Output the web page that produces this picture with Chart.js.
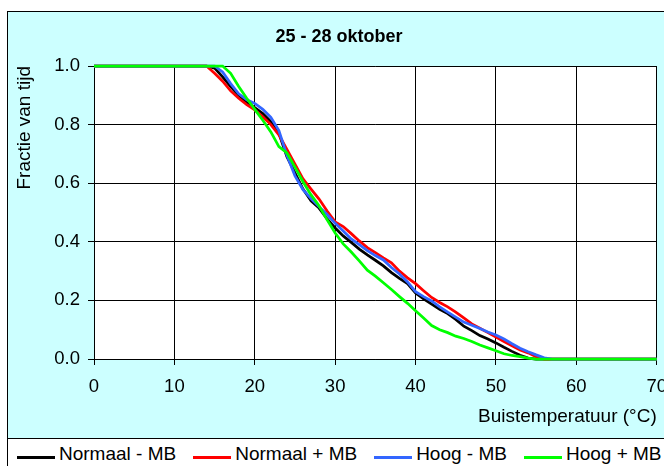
<!DOCTYPE html>
<html>
<head>
<meta charset="utf-8">
<script src="https://cdn.jsdelivr.net/npm/chart.js@4.4.0/dist/chart.umd.min.js"></script>
<style>
    html, body { margin: 0; padding: 0; width: 664px; height: 466px; overflow: hidden; background: #fff; }
    body { position: relative; font-family: "Liberation Sans", Arial, sans-serif; }
    .frame { position: absolute; left: 7px; top: 11px; width: 680px; height: 470px; background: #ccffff; border: 1px solid #000; }
    .chart-wrap { position: absolute; left: 0; top: 0; width: 678px; height: 438px; }
    .legend-box { position: absolute; left: 7px; top: 438px; width: 680px; height: 40px; background: #fff; border: 1px solid #000; }
    .legend-items { position: absolute; left: 17px; top: 443px; display: flex; gap: 17px; white-space: nowrap; }
    .legend-item { position: relative; height: 22px; line-height: 22px; font-size: 19px; color: #000; padding-left: 42px; }
    .legend-line { position: absolute; left: 0; top: 12.5px; width: 38px; height: 3px; }
</style>
</head>
<body>
<div class="frame"></div>
<div class="chart-wrap"><canvas id="curve-chart" width="678" height="438"></canvas></div>
<div class="legend-box"></div>
<div class="legend-items" id="legend"></div>

<script>
// buistemperatuur (°C)
const temps = [0, 14, 15, 16, 17, 18, 19, 20, 21, 22, 23, 24, 25, 26, 27, 28, 29, 30, 31, 32, 33, 34, 35,
    36, 37, 38, 39, 40, 41, 42, 43, 44, 45, 46, 47, 48, 49, 50, 51, 52, 53, 54, 55, 56, 57, 70];

// fractie van tijd per variant
const normaalMinMB = [1, 1.0, 0.993, 0.963, 0.93, 0.9, 0.876, 0.858, 0.838, 0.81, 0.77, 0.69, 0.635, 0.58,
    0.54, 0.515, 0.478, 0.447, 0.42, 0.398, 0.375, 0.355, 0.337, 0.318, 0.295, 0.275, 0.257, 0.225, 0.205,
    0.187, 0.17, 0.155, 0.135, 0.112, 0.097, 0.08, 0.068, 0.055, 0.04, 0.026, 0.013, 0.003, 0, 0, 0, 0];
const normaalPlusMB = [1, 1.0, 0.975, 0.948, 0.915, 0.89, 0.868, 0.85, 0.827, 0.8, 0.765, 0.715, 0.665, 0.615,
    0.58, 0.546, 0.505, 0.468, 0.452, 0.428, 0.403, 0.38, 0.363, 0.345, 0.328, 0.3, 0.277, 0.257, 0.233,
    0.21, 0.193, 0.178, 0.16, 0.14, 0.12, 0.105, 0.09, 0.075, 0.06, 0.045, 0.031, 0.021, 0.008, 0, 0, 0];
const hoogMinMB = [1, 1, 1, 0.98, 0.94, 0.905, 0.885, 0.872, 0.852, 0.825, 0.78, 0.695, 0.625, 0.578,
    0.548, 0.52, 0.493, 0.463, 0.437, 0.41, 0.39, 0.37, 0.353, 0.338, 0.312, 0.29, 0.263, 0.23, 0.213,
    0.198, 0.178, 0.16, 0.143, 0.126, 0.115, 0.104, 0.092, 0.082, 0.068, 0.052, 0.037, 0.025, 0.014, 0.004, 0, 0];
const hoogPlusMB = [1, 1, 1, 1, 0.975, 0.93, 0.89, 0.852, 0.815, 0.775, 0.725, 0.703, 0.655, 0.605,
    0.56, 0.523, 0.475, 0.43, 0.393, 0.365, 0.335, 0.303, 0.283, 0.26, 0.237, 0.213, 0.19, 0.165, 0.14,
    0.114, 0.1, 0.09, 0.078, 0.07, 0.06, 0.048, 0.038, 0.028, 0.018, 0.012, 0.008, 0.003, 0, 0, 0, 0];

const seriesNames = ['Normaal - MB', 'Normaal + MB', 'Hoog - MB', 'Hoog + MB'];
const seriesColors = ['#000000', '#ff0000', '#3366ff', '#00ff00'];
const seriesValues = [normaalMinMB, normaalPlusMB, hoogMinMB, hoogPlusMB];

Chart.defaults.font.family = '"Liberation Sans", Arial, sans-serif';
Chart.defaults.color = '#000';

// witte achtergrond voor het plotvlak
const plotBg = {
    id: 'plotBg',
    beforeDraw(chart) {
        const { ctx, chartArea: a } = chart;
        ctx.save();
        ctx.fillStyle = '#fff';
        ctx.fillRect(a.left, a.top, a.width, a.height);
        ctx.restore();
    }
};

const toPoints = vals => temps.map((t, i) => ({ x: t, y: vals[i] }));

new Chart(document.getElementById('curve-chart'), {
    type: 'line',
    data: {
        datasets: seriesValues.map((vals, i) => ({
            label: seriesNames[i],
            data: toPoints(vals),
            borderColor: seriesColors[i],
            borderWidth: 2.75,
            pointRadius: 0,
            tension: 0,
            fill: false,
            clip: 3,
            order: seriesValues.length - 1 - i
        }))
    },
    options: {
        responsive: false,
        animation: false,
        layout: { padding: { left: 21, right: 21, top: 0, bottom: 9.6 } },
        plugins: {
            legend: { display: false },
            tooltip: { enabled: false },
            title: {
                display: true,
                text: '25 - 28 oktober',
                color: '#000',
                font: { size: 18, weight: 'bold' },
                padding: { top: 26.2, bottom: 18.2 }
            }
        },
        scales: {
            x: {
                type: 'linear',
                min: 0,
                max: 70,
                ticks: { stepSize: 10, font: { size: 18.5 }, padding: 11, maxRotation: 0 },
                grid: { color: '#000', lineWidth: 1, tickLength: 6, tickColor: '#000' },
                border: { color: '#000' },
                title: {
                    display: true,
                    text: 'Buistemperatuur (°C)',
                    align: 'end',
                    font: { size: 19 },
                    padding: { top: 7.4, bottom: 0 }
                },
                afterFit: s => { s.height = 69.4; }
            },
            y: {
                min: 0,
                max: 1,
                ticks: { stepSize: 0.2, font: { size: 18.5 }, padding: 8, callback: v => v.toFixed(1) },
                grid: { color: '#000', lineWidth: 1, tickLength: 6, tickColor: '#000' },
                border: { color: '#000' },
                title: {
                    display: true,
                    text: 'Fractie van tijd',
                    align: 'end',
                    font: { size: 19 },
                    padding: { top: -7.4, bottom: 0 }
                },
                afterFit: s => { s.width = 73; }
            }
        }
    },
    plugins: [plotBg]
});

document.getElementById('legend').innerHTML = seriesNames.map((name, i) => `
    <div class="legend-item"><span class="legend-line" style="background:${seriesColors[i]}"></span>${name}</div>`).join('');
</script>
</body>
</html>
